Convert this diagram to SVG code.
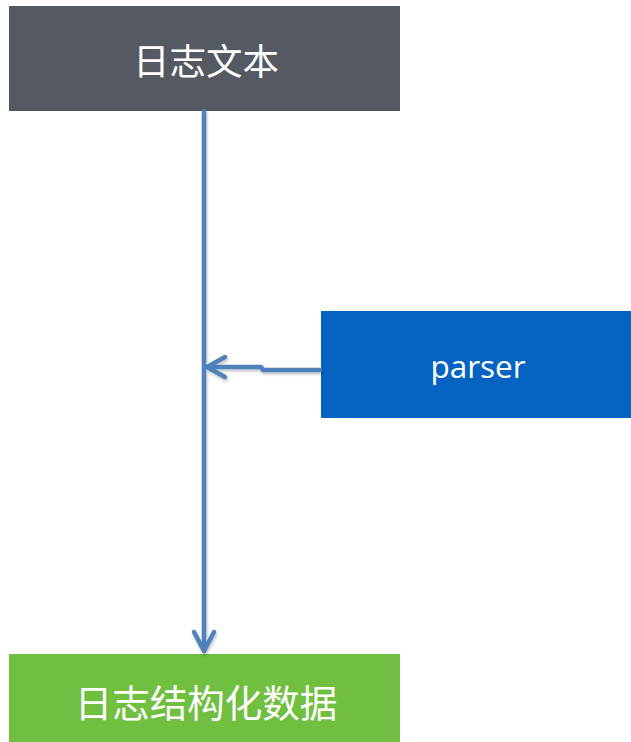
<svg xmlns="http://www.w3.org/2000/svg" width="631" height="742" viewBox="0 0 631 742">
  <style>
    .label { fill: #ffffff; font-family: "Noto Sans CJK SC", "Liberation Sans", sans-serif; text-anchor: middle; dominant-baseline: central; }
    .link { fill: none; stroke: #4F81BD; stroke-width: 4.5; stroke-linecap: round; stroke-linejoin: round; }
  </style>
  <defs>
    <filter id="soft" x="-20%" y="-20%" width="140%" height="140%">
      <feDropShadow dx="1" dy="2" stdDeviation="1.5" flood-color="#000" flood-opacity="0.25"/>
    </filter>
  </defs>
  <rect width="631" height="742" fill="#ffffff"/>

  <g id="log-text">
    <rect x="9" y="6" width="391" height="105" fill="#555A62"/>
    <text class="label" x="206" y="59" font-size="36.5">日志文本</text>
  </g>

  <g id="parser">
    <rect x="321" y="311" width="310" height="107" fill="#0563C1"/>
    <text class="label" x="478" y="365" font-size="31.5" style="font-family: 'Open Sans', 'Liberation Sans', sans-serif">parser</text>
  </g>

  <g id="structured-data">
    <rect x="9" y="654" width="391" height="88" fill="#70BF41"/>
    <text class="label" x="206" y="700" font-size="37.5">日志结构化数据</text>
  </g>

  <g id="connectors" filter="url(#soft)">
    <path class="link" d="M204,111 V651"/>
    <path class="link" d="M194,632 L204,651 L214,632"/>
    <path class="link" d="M320,370 H263 L261,367 H207"/>
    <path class="link" d="M225,357 L207,367 L225,377"/>
  </g>
</svg>
